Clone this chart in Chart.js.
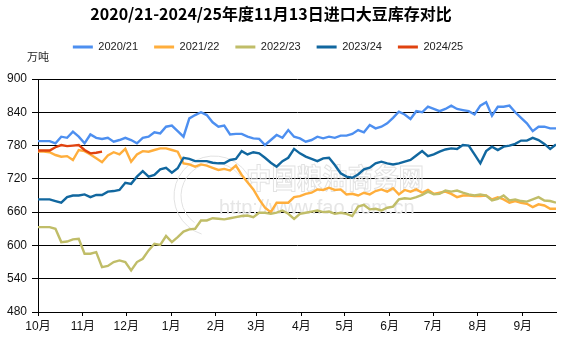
<!DOCTYPE html>
<html>
<head>
<meta charset="utf-8">
<script src="https://cdn.jsdelivr.net/npm/chart.js@4.4.1/dist/chart.umd.min.js"></script>
<style>
  html, body { margin: 0; padding: 0; background: #fff; }
  canvas { display: block; }
</style>
</head>
<body>
<canvas id="stockChart" width="564" height="345"></canvas>
<script>
const seasons = ["2020/21", "2021/22", "2022/23", "2023/24", "2024/25"];
const seasonColors = ["#4d8ff0", "#ffae3c", "#c0bd68", "#11679f", "#e0420f"];

// month ticks, counted in days from 1 Oct
const monthLabels = ["10月", "11月", "12月", "1月", "2月", "3月", "4月", "5月", "6月", "7月", "8月", "9月"];
const monthStartDays = [0, 31, 61, 92, 123, 151, 182, 212, 243, 273, 304, 335];
const lastDay = 358;
const yMin = 480;
const yMax = 900;
const yStep = 60;

// one reading roughly every four days
const STEP = lastDay / 89;

const stock2021 = [
  788, 788, 788, 784, 796, 794, 805, 796, 784, 800,
  794, 792, 794, 787, 790, 794, 790, 784, 794, 796,
  804, 802, 814, 816, 806, 796, 829, 835, 840, 835,
  822, 814, 816, 800, 801, 801, 796, 793, 792, 781,
  790, 799, 794, 808, 796, 793, 787, 790, 796, 793,
  796, 794, 798, 798, 801, 808, 804, 817, 811, 814,
  820, 830, 841, 836, 828, 842, 840, 850, 846, 842,
  846, 852, 846, 844, 842, 836, 852, 858, 834, 850,
  850, 852, 840, 830, 820, 806, 814, 814, 811, 811
];
const stock2122 = [
  769, 769, 768, 763, 760, 761, 754, 772, 770, 764,
  757, 750, 762, 768, 764, 774, 751, 764, 770, 769,
  772, 775, 775, 772, 769, 748, 746, 742, 746, 744,
  740, 736, 738, 735, 744, 727, 714, 701, 683, 668,
  660, 677, 677, 677, 687, 689, 693, 695, 701, 700,
  704, 700, 701, 692, 693, 690, 695, 692, 698, 701,
  697, 703, 692, 700, 697, 701, 695, 700, 693, 695,
  697, 693, 687, 690, 690, 689, 689, 690, 683, 687,
  683, 677, 680, 677, 675, 669, 674, 672, 666, 666
];
const stock2223 = [
  633, 633, 633, 630, 606, 607, 611, 612, 585, 585,
  588, 561, 563, 570, 573, 570, 555, 570, 576, 591,
  603, 601, 617, 606, 615, 625, 629, 630, 645, 645,
  649, 648, 647, 649, 651, 653, 654, 651, 659, 659,
  657, 659, 663, 657, 648, 657, 659, 661, 663, 660,
  661, 657, 659, 657, 653, 670, 673, 665, 666, 663,
  668, 670, 683, 685, 684, 687, 691, 697, 692, 693,
  699, 697, 699, 695, 692, 690, 692, 690, 681, 684,
  690, 681, 683, 680, 679, 683, 687, 681, 680, 677
];
const stock2324 = [
  683, 683, 683, 680, 677, 687, 690, 690, 692, 687,
  691, 691, 697, 698, 700, 713, 711, 724, 734, 724,
  727, 737, 740, 731, 739, 758, 756, 752, 752, 752,
  749, 748, 748, 754, 756, 770, 764, 768, 766, 758,
  749, 742, 752, 758, 774, 766, 760, 756, 752, 757,
  758, 745, 730, 724, 722, 728, 737, 740, 748, 751,
  748, 746, 748, 751, 754, 762, 770, 761, 764, 769,
  773, 775, 774, 781, 780, 764, 748, 770, 778, 772,
  778, 780, 783, 789, 789, 794, 790, 783, 774, 782
];
const stock2425 = [771, 771, 771, 777, 781, 779, 780, 781, 772, 766, 767, 769];

const seriesValues = [stock2021, stock2122, stock2223, stock2324, stock2425];

function toPoints(values) {
  return values.map((v, i) => ({ x: i * STEP, y: v }));
}

const fontFamily = "'Liberation Sans', Arial, 'Noto Sans CJK SC', sans-serif";

// faint site mark behind the lines
const siteMark = {
  id: "siteMark",
  beforeDatasetsDraw(chart) {
    const ctx = chart.ctx;
    ctx.save();
    ctx.strokeStyle = "#e2e2e2";
    ctx.lineWidth = 1;
    ctx.beginPath();
    ctx.arc(214, 196, 40, 0.6 * Math.PI, 1.9 * Math.PI);
    ctx.stroke();
    ctx.beginPath();
    ctx.arc(214, 196, 33, 0.7 * Math.PI, 1.8 * Math.PI);
    ctx.stroke();
    ctx.font = "bold 28px 'Noto Sans CJK SC', sans-serif";
    ctx.textBaseline = "middle";
    ctx.textAlign = "left";
    ctx.strokeText("中国粮油商务网", 246, 178, 178);
    ctx.fillStyle = "#e6e6e6";
    ctx.font = "20px 'Liberation Sans', Arial, sans-serif";
    ctx.fillText("http://www.fao.com.cn", 219, 208, 200);
    ctx.restore();
  },
};

// legend needs extra room underneath, and title/legend sit a bit left of centre
const headerLayout = {
  id: "headerLayout",
  beforeInit(chart) {
    const fit = chart.legend.fit;
    chart.legend.fit = function () {
      fit.call(this);
      this.height += 16.5;
    };
  },
  afterLayout(chart) {
    chart.legend.left -= 10;
    chart.legend.right -= 10;
    chart.titleBlock.left -= 7;
    chart.titleBlock.right -= 7;
  },
  afterDraw(chart) {
    const ctx = chart.ctx;
    ctx.save();
    ctx.font = "11px 'Noto Sans CJK SC', sans-serif";
    ctx.fillStyle = "#222";
    ctx.textAlign = "left";
    ctx.textBaseline = "middle";
    ctx.fillText("万吨", 27, 57);
    ctx.restore();
  },
};

const ctx = document.getElementById("stockChart").getContext("2d");
new Chart(ctx, {
  type: "line",
  data: {
    datasets: seasons.map((label, i) => ({
      label,
      data: toPoints(seriesValues[i]),
      borderColor: seasonColors[i],
      backgroundColor: seasonColors[i],
      borderWidth: 2.4,
      pointRadius: 0,
      tension: 0,
      order: -i,
    })),
  },
  options: {
    responsive: false,
    animation: false,
    layout: { padding: { left: 0, right: 8, top: 0, bottom: 0 } },
    plugins: {
      title: {
        display: true,
        text: "2020/21-2024/25年度11月13日进口大豆库存对比",
        color: "#000",
        font: { family: "'Noto Sans CJK SC', sans-serif", size: 16, weight: "bold" },
        padding: { top: 4, bottom: 2.3 },
      },
      legend: {
        display: true,
        position: "top",
        labels: {
          usePointStyle: true,
          pointStyle: "line",
          pointStyleWidth: 20,
          boxHeight: 11,
          padding: 16,
          color: "#222",
          font: { family: fontFamily, size: 11 },
          sort: (a, b) => a.datasetIndex - b.datasetIndex,
          generateLabels(chart) {
            const items = Chart.defaults.plugins.legend.labels.generateLabels(chart);
            items.forEach((item) => { item.lineWidth = 3; });
            return items;
          },
        },
      },
      tooltip: { enabled: false },
    },
    scales: {
      x: {
        type: "linear",
        min: 0,
        max: lastDay,
        afterBuildTicks(scale) {
          scale.ticks = monthStartDays.map((value) => ({ value }));
        },
        afterFit(scale) {
          scale.height = 33;
        },
        ticks: {
          autoSkip: false,
          maxRotation: 0,
          padding: 3,
          color: "#111",
          font: { family: fontFamily, size: 12 },
          callback: (value) => monthLabels[monthStartDays.indexOf(value)],
        },
        grid: { drawOnChartArea: false, drawTicks: true, tickLength: 4, color: "#000" },
        border: { display: true, color: "#000", width: 1 },
      },
      y: {
        min: yMin,
        max: yMax,
        afterFit(scale) {
          scale.width = 38;
        },
        ticks: {
          stepSize: yStep,
          padding: 5,
          color: "#111",
          font: { family: fontFamily, size: 12 },
        },
        grid: { color: "#000", lineWidth: 1, drawTicks: true, tickLength: 6 },
        border: { display: true, color: "#000", width: 1 },
      },
    },
  },
  plugins: [siteMark, headerLayout],
});
</script>
</body>
</html>
